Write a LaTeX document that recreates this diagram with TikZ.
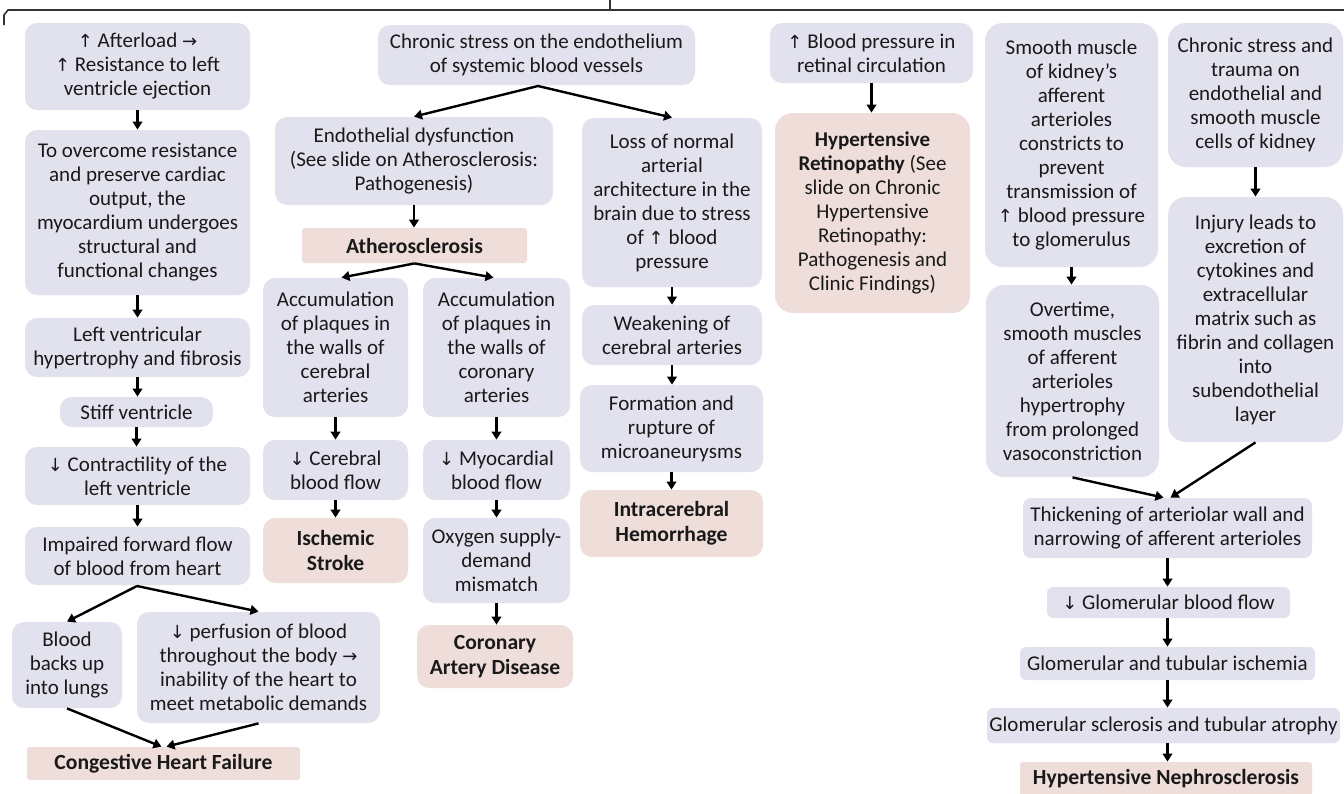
\documentclass[tikz,border=0pt]{standalone}
\usepackage{fontspec}
\setmainfont{Carlito}
\newfontfamily\symf{DejaVu Sans}
\usetikzlibrary{arrows.meta,calc}
\newcommand\upar{{\symf\fontsize{9}{10}\selectfont ↑}}
\newcommand\dnar{{\symf\fontsize{9}{10}\selectfont ↓}}
\newcommand\rarr{{\symf\fontsize{9}{10}\selectfont →}}
\definecolor{lav}{HTML}{E2E1EE}
\definecolor{pnk}{HTML}{EFDDDA}
\newcommand\bx[7]{%
 \pgfmathsetmacro\cx{(#3+#5)/2}%
 \pgfmathsetmacro\cy{(#4+#6)/2}%
 \pgfmathsetmacro\ww{(#5-#3)/2}%
 \pgfmathsetmacro\hh{(#6-#4)/2}%
 \node[#1, minimum width=\ww pt, minimum height=\hh pt] (#2) at (\cx,\cy) {#7};}
\tikzset{
 lbox/.style={fill=lav, rounded corners=6pt, align=center, inner sep=1pt, text=black!90,
   font=\fontsize{10.5}{12}\selectfont},
 pbox/.style={lbox, fill=pnk},
 pbold/.style={pbox, font=\fontsize{10.8}{12.5}\selectfont\bfseries},
 pflat/.style={pbold, rounded corners=1.5pt},
 arr/.style={-{Triangle[length=4pt,width=4.8pt]}, line width=1.2pt, black},
}
\begin{document}
\begin{tikzpicture}[x=0.5pt,y=-0.5pt]
\useasboundingbox (0,0) rectangle (1344,793);
\fill[white] (0,0) rectangle (1344,793);
% top bracket
\draw[line width=0.8pt, black!80] (4,25) -- (4,15) -- (8,10) -- (1344,10);
\draw[line width=0.8pt, black!80] (610,10) -- (610,0);
% column 1
\bx{lbox}{A1}{25}{23}{250}{110}{\upar{} Afterload \rarr\\\upar{} Resistance to left\\ventricle ejection}
\bx{lbox}{A2}{25}{130}{250}{295}{To overcome resistance\\and preserve cardiac\\output, the\\myocardium undergoes\\structural and\\functional changes}
\bx{lbox}{A3}{25}{318}{250}{377}{Left ventricular\\hypertrophy and fibrosis}
\bx{lbox}{A4}{60}{397}{213}{427}{Stiff ventricle}
\bx{lbox}{A5}{25}{447}{250}{505}{\dnar{} Contractility of the\\left ventricle}
\bx{lbox}{A6}{25}{527}{250}{585}{Impaired forward flow\\of blood from heart}
\bx{lbox}{A7}{12}{622}{122}{708}{Blood\\backs up\\into lungs}
\bx{lbox}{A8}{137}{612}{380}{723}{\dnar{} perfusion of blood\\throughout the body \rarr\\inability of the heart to\\meet metabolic demands}
\bx{pflat}{CHF}{27}{747}{300}{780}{Congestive Heart Failure}
% column 2/3
\bx{lbox}{B0}{378}{25}{695}{85}{Chronic stress on the endothelium\\of systemic blood vessels}
\bx{lbox}{B1}{275}{117}{553}{205}{Endothelial dysfunction\\(See slide on Atherosclerosis:\\Pathogenesis)}
\bx{pflat}{B2}{302}{228}{527}{263}{Atherosclerosis}
\bx{lbox}{B3}{263}{278}{408}{417}{Accumulation\\of plaques in\\the walls of\\cerebral\\arteries}
\bx{lbox}{B4}{423}{278}{570}{417}{Accumulation\\of plaques in\\the walls of\\coronary\\arteries}
\bx{lbox}{B5}{263}{440}{408}{500}{\dnar{} Cerebral\\blood flow}
\bx{lbox}{B6}{423}{440}{570}{500}{\dnar{} Myocardial\\blood flow}
\bx{pbold}{B7}{263}{518}{408}{583}{Ischemic\\Stroke}
\bx{lbox}{B8}{423}{518}{570}{603}{Oxygen supply-\\demand\\mismatch}
\bx{pbold}{B9}{417}{625}{573}{688}{Coronary\\Artery Disease}
% column 4
\bx{lbox}{C1}{582}{118}{762}{287}{Loss of normal\\arterial\\architecture in the\\brain due to stress\\of \upar{} blood\\pressure}
\bx{lbox}{C2}{582}{305}{762}{365}{Weakening of\\cerebral arteries}
\bx{lbox}{C3}{580}{385}{763}{472}{Formation and\\rupture of\\microaneurysms}
\bx{pbold}{C4}{580}{490}{763}{557}{Intracerebral\\Hemorrhage}
% column 5
\bx{lbox}{D1}{770}{23}{973}{83}{\upar{} Blood pressure in\\retinal circulation}
\bx{pbox, rounded corners=9pt}{D2}{775}{113}{970}{313}{\textbf{Hypertensive}\\\textbf{Retinopathy} (See\\slide on Chronic\\Hypertensive\\Retinopathy:\\Pathogenesis and\\Clinic Findings)}
% kidney
\bx{lbox, rounded corners=9pt}{E1}{985}{23}{1158}{267}{Smooth muscle\\of kidney's\\afferent\\arterioles\\constricts to\\prevent\\transmission of\\\upar{} blood pressure\\to glomerulus}
\bx{lbox, rounded corners=9pt}{E2}{986}{285}{1159}{477}{Overtime,\\smooth muscles\\of afferent\\arterioles\\hypertrophy\\from prolonged\\vasoconstriction}
\bx{lbox, rounded corners=9pt}{E3}{1168}{23}{1343}{167}{Chronic stress and\\trauma on\\endothelial and\\smooth muscle\\cells of kidney}
\bx{lbox, rounded corners=9pt}{E4}{1168}{197}{1343}{442}{Injury leads to\\excretion of\\cytokines and\\extracellular\\matrix such as\\fibrin and collagen\\into\\subendothelial\\layer}
\bx{lbox, rounded corners=4pt}{F1}{1023}{498}{1312}{558}{Thickening of arteriolar wall and\\narrowing of afferent arterioles}
\bx{lbox, rounded corners=3pt}{F2}{1047}{587}{1290}{618}{\dnar{} Glomerular blood flow}
\bx{lbox, rounded corners=3pt}{F3}{1020}{647}{1315}{680}{Glomerular and tubular ischemia}
\bx{lbox, rounded corners=3pt}{F4}{987}{708}{1340}{743}{Glomerular sclerosis and tubular atrophy}
\bx{pflat}{F5}{1020}{762}{1312}{796}{Hypertensive Nephrosclerosis}
% connectors
\draw[arr] (A1.south) -- (A1.south |- A2.north);
\draw[arr] (A2.south) -- (A2.south |- A3.north);
\draw[arr] (A3.south) -- (A3.south |- A4.north);
\draw[arr] (A4.south) -- (A4.south |- A5.north);
\draw[arr] (A5.south) -- (A5.south |- A6.north);
\coordinate (a6s) at (137,586);
\draw[arr] (a6s) -- (A7.north);
\draw[arr] (a6s) -- (A8.north);
\draw[arr] (A7.south) -- ($(CHF.north)+(-2,0)$);
\draw[arr] (A8.south) -- ($(CHF.north)+(3,0)$);
\coordinate (b0s) at (538,86);
\draw[arr] (b0s) -- (B1.north);
\draw[arr] (b0s) -- (C1.north);
\draw[arr] (B1.south) -- (B1.south |- B2.north);
\draw[arr] (B2.south) -- ($(B3.north)+(6,0)$);
\draw[arr] (B2.south) -- ($(B4.north)+(-3,0)$);
\draw[arr] (B3.south) -- (B3.south |- B5.north);
\draw[arr] (B5.south) -- (B5.south |- B7.north);
\draw[arr] (B4.south) -- (B4.south |- B6.north);
\draw[arr] (B6.south) -- (B6.south |- B8.north);
\draw[arr] (B8.south) -- (B8.south |- B9.north);
\draw[arr] (C1.south) -- (C1.south |- C2.north);
\draw[arr] (C2.south) -- (C2.south |- C3.north);
\draw[arr] (C3.south) -- (C3.south |- C4.north);
\draw[arr] (D1.south) -- (D1.south |- D2.north);
\draw[arr] (E1.south) -- (E1.south |- E2.north);
\draw[arr] (E3.south) -- (E3.south |- E4.north);
\draw[arr] (E2.south) -- ($(F1.north)+(-4,0)$);
\draw[arr] (E4.south) -- ($(F1.north)+(3,0)$);
\draw[arr] (F1.south) -- (F1.south |- F2.north);
\draw[arr] (F2.south -| F1.south) -- (F1.south |- F3.north);
\draw[arr] (F3.south -| F1.south) -- (F1.south |- F4.north);
\draw[arr] (F4.south -| F1.south) -- (F1.south |- F5.north);
\end{tikzpicture}
\end{document}
